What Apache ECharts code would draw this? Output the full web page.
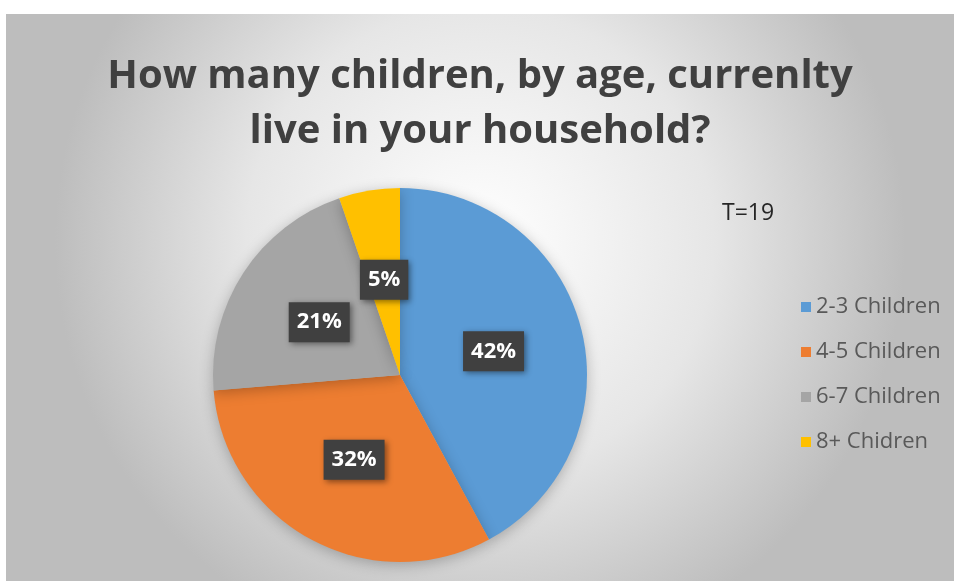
<!DOCTYPE html>
<html>
<head>
<meta charset="utf-8">
<script src="https://cdn.jsdelivr.net/npm/echarts@6/dist/echarts.min.js"></script>
<style>
  html, body { margin: 0; padding: 0; background: #ffffff; }
  #chart {
    position: absolute;
    left: 6px;
    top: 14px;
    width: 948px;
    height: 567px;
  }
</style>
</head>
<body>
<div id="chart"></div>
<script>
  // survey counts (T=19)
  let categories = ['2-3 Children', '4-5 Children', '6-7 Children', '8+ Chidren'];
  let counts = [8, 6, 4, 1];
  let colors = ['#5B9BD5', '#ED7D31', '#A5A5A5', '#FFC000'];
  let titleText = 'How many children, by age, currenlty\nlive in your household?';
  let noteText = 'T=19';

  let myChart = echarts.init(document.getElementById('chart'));
  let font = '"Open Sans", "Liberation Sans", sans-serif';

  let option = {
    backgroundColor: new echarts.graphic.RadialGradient(0.5, 0.4, 0.75, [
      { offset: 0, color: '#ffffff' },
      { offset: 0.55, color: '#e6e6e6' },
      { offset: 1, color: '#bdbdbd' }
    ]),
    title: {
      text: titleText,
      left: 'center',
      top: 30,
      textStyle: {
        fontFamily: font,
        fontSize: 40,
        fontWeight: 'bold',
        color: '#404040',
        lineHeight: 55
      }
    },
    legend: {
      orient: 'vertical',
      left: 790,
      top: 277,
      itemWidth: 10,
      itemHeight: 10,
      itemGap: 23,
      icon: 'rect',
      textStyle: {
        fontFamily: font,
        fontSize: 22,
        color: '#595959'
      },
      data: categories
    },
    graphic: [{
      type: 'text',
      left: 716,
      top: 188,
      style: {
        text: noteText,
        font: '23px ' + font,
        fill: '#262626'
      }
    }],
    series: [{
      type: 'pie',
      center: [394, 361],
      radius: 187,
      startAngle: 90,
      clockwise: true,
      silent: true,
      itemStyle: {
        shadowBlur: 14,
        shadowColor: 'rgba(0,0,0,0.25)',
        shadowOffsetY: 3
      },
      label: {
        show: true,
        position: 'inside',
        formatter: function (p) { return Math.round(p.percent) + '%'; },
        color: '#ffffff',
        fontFamily: font,
        fontSize: 22,
        fontWeight: 'bold',
        backgroundColor: '#404040',
        padding: [9, 8, 9, 8],
        shadowBlur: 6,
        shadowColor: 'rgba(0,0,0,0.45)',
        shadowOffsetX: 2,
        shadowOffsetY: 2
      },
      labelLine: { show: false },
      data: categories.map(function (c, i) {
        return { name: c, value: counts[i], itemStyle: { color: colors[i] } };
      })
    }]
  };
  myChart.setOption(option);
</script>
</body>
</html>
